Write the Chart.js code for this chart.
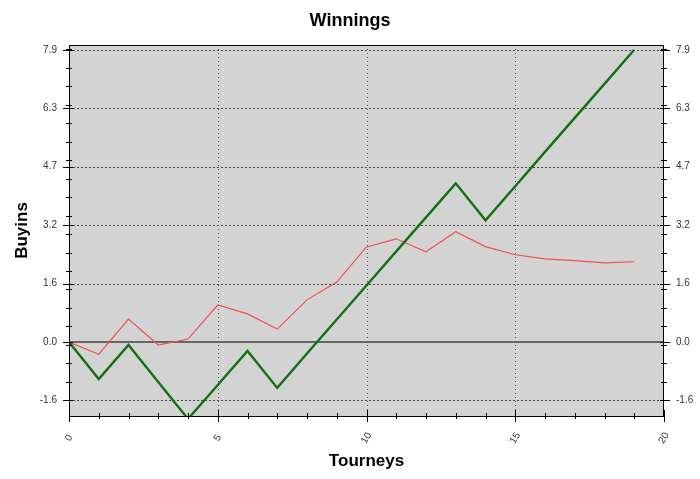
<!DOCTYPE html>
<html lang="en">
<head>
    <meta charset="UTF-8">
    <title>Winnings</title>
    <style>
        body { margin: 0; background: #fff; }
        #wrap { width: 700px; height: 479px; }
    </style>
</head>
<body>
    <div id="wrap">
        <canvas id="myChart"></canvas>
    </div>

    <script src="https://cdn.jsdelivr.net/npm/chart.js"></script>

    <script>
        // data
        const tourneys = [0, 1, 2, 3, 4, 5, 6, 7, 8, 9, 10, 11, 12, 13, 14, 15, 16, 17, 18, 19];
        const winnings = [0, -1.0, -0.08, -1.08, -2.08, -1.16, -0.24, -1.24, -0.31, 0.61,
                          1.53, 2.45, 3.37, 4.29, 3.29, 4.21, 5.14, 6.06, 6.98, 7.9];
        const average = [0, -0.33, 0.62, -0.08, 0.08, 1.0, 0.76, 0.35, 1.14, 1.62,
                         2.57, 2.79, 2.44, 2.98, 2.58, 2.36, 2.25, 2.2, 2.14, 2.17];

        const yTickValues = [-1.58, 0, 1.58, 3.16, 4.74, 6.32, 7.9];
        const yTickLabels = ['-1.6', '0.0', '1.6', '3.2', '4.7', '6.3', '7.9'];
        const xTickValues = [0, 5, 10, 15, 20];
        const xTickLabels = ['0', '5', '10', '15', '20'];

        const yMin = -2.0;
        const yMax = 8.03;

        const ctx = document.getElementById('myChart');

        function toPoints(ys) {
            return tourneys.map((x, i) => ({ x: x, y: ys[i] }));
        }

        // grey plot area, dotted grid and the zero line
        const backdrop = {
            id: 'backdrop',
            beforeDatasetsDraw(chart) {
                const c = chart.ctx;
                const a = chart.chartArea;
                const xs = chart.scales.x;
                const ys = chart.scales.y;
                c.save();
                c.fillStyle = '#d3d3d3';
                c.fillRect(a.left, a.top, a.right - a.left, a.bottom - a.top);

                c.lineWidth = 1;
                c.strokeStyle = '#444';
                c.setLineDash([2, 2]);
                yTickValues.forEach(v => {
                    if (v === 0) return;
                    const y = Math.round(ys.getPixelForValue(v)) + 0.5;
                    c.beginPath();
                    c.moveTo(a.left, y);
                    c.lineTo(a.right, y);
                    c.stroke();
                });

                c.strokeStyle = '#555';
                c.setLineDash([1, 3]);
                xTickValues.forEach(v => {
                    if (v === 0 || v === 20) return;
                    const x = Math.round(xs.getPixelForValue(v)) + 0.5;
                    c.beginPath();
                    c.moveTo(x, a.top);
                    c.lineTo(x, a.bottom);
                    c.stroke();
                });

                c.setLineDash([]);
                c.strokeStyle = '#666';
                c.lineWidth = 2;
                const y0 = Math.round(ys.getPixelForValue(0));
                c.beginPath();
                c.moveTo(a.left, y0);
                c.lineTo(a.right, y0);
                c.stroke();
                c.restore();
            },
            afterDatasetsDraw(chart) {
                const c = chart.ctx;
                const a = chart.chartArea;
                const xs = chart.scales.x;
                const ys = chart.scales.y;
                c.save();
                c.strokeStyle = '#000';
                c.lineWidth = 1;
                c.strokeRect(a.left + 0.5, a.top + 0.5, a.right - a.left - 1, a.bottom - a.top);

                // y ticks on both sides
                c.beginPath();
                yTickValues.forEach(v => {
                    const y = Math.round(ys.getPixelForValue(v)) + 0.5;
                    c.moveTo(a.left - 6, y); c.lineTo(a.left + 4, y);
                    c.moveTo(a.right - 4, y); c.lineTo(a.right + 6, y);
                });
                for (let v = -1.08; v < yMax; v += 0.5) {
                    const y = Math.round(ys.getPixelForValue(v)) + 0.5;
                    c.moveTo(a.left - 3, y); c.lineTo(a.left + 3, y);
                    c.moveTo(a.right - 3, y); c.lineTo(a.right + 3, y);
                }
                // x ticks
                for (let v = 0; v <= 20; v++) {
                    const x = Math.round(xs.getPixelForValue(v)) + 0.5;
                    const len = v % 5 === 0 ? 6 : 3;
                    c.moveTo(x, a.bottom - len); c.lineTo(x, a.bottom + len);
                }
                c.stroke();

                // rotated x labels
                c.fillStyle = '#333';
                c.font = '10px Arial, "Liberation Sans", sans-serif';
                c.textAlign = 'center';
                c.textBaseline = 'middle';
                xTickValues.forEach((v, i) => {
                    const x = xs.getPixelForValue(v);
                    c.save();
                    c.translate(x, a.bottom + 22);
                    c.rotate(-Math.PI / 3);
                    c.fillText(xTickLabels[i], 0, 0);
                    c.restore();
                });
                c.restore();
            }
        };

        const tickFont = { family: 'Arial, "Liberation Sans", sans-serif', size: 10 };
        const titleFont = { family: 'Arial, "Liberation Sans", sans-serif', size: 17, weight: 'bold' };

        function yAxis(pos, width, withTitle) {
            return {
                type: 'linear',
                position: pos,
                min: yMin,
                max: yMax,
                afterBuildTicks(scale) {
                    scale.ticks = yTickValues.map(v => ({ value: v }));
                },
                afterFit(scale) {
                    scale.width = width;
                },
                ticks: {
                    autoSkip: false,
                    padding: 12,
                    color: '#333',
                    font: tickFont,
                    callback: (v, i) => yTickLabels[i]
                },
                grid: { display: false, drawTicks: false },
                border: { display: false },
                title: {
                    display: withTitle,
                    text: 'Buyins',
                    color: '#000',
                    font: titleFont,
                    padding: { top: 12, bottom: 0 }
                }
            };
        }

        new Chart(ctx, {
            type: 'line',
            data: {
                datasets: [{
                    label: 'Winnings',
                    data: toPoints(winnings),
                    borderColor: '#157015',
                    borderWidth: 2.4,
                    pointRadius: 0,
                    tension: 0,
                    yAxisID: 'y'
                }, {
                    label: 'Average',
                    data: toPoints(average),
                    borderColor: '#f25050',
                    borderWidth: 1.2,
                    pointRadius: 0,
                    tension: 0,
                    yAxisID: 'y'
                }]
            },
            options: {
                responsive: true,
                maintainAspectRatio: false,
                animation: false,
                layout: { padding: 0 },
                plugins: {
                    legend: { display: false },
                    tooltip: { enabled: false },
                    title: {
                        display: true,
                        text: 'Winnings',
                        color: '#000',
                        font: { family: 'Arial, "Liberation Sans", sans-serif', size: 18, weight: 'bold' },
                        padding: { top: 10, bottom: 13.4 }
                    }
                },
                scales: {
                    x: {
                        type: 'linear',
                        position: 'bottom',
                        min: 0,
                        max: 20,
                        afterFit(scale) {
                            scale.height = 63;
                        },
                        ticks: { display: false },
                        grid: { display: false, drawTicks: false },
                        border: { display: false },
                        title: {
                            display: true,
                            text: 'Tourneys',
                            color: '#000',
                            font: titleFont,
                            padding: { top: 0, bottom: 7 }
                        }
                    },
                    y: yAxis('left', 69, true),
                    y2: yAxis('right', 36, false)
                }
            },
            plugins: [backdrop]
        });
    </script>
</body>
</html>
